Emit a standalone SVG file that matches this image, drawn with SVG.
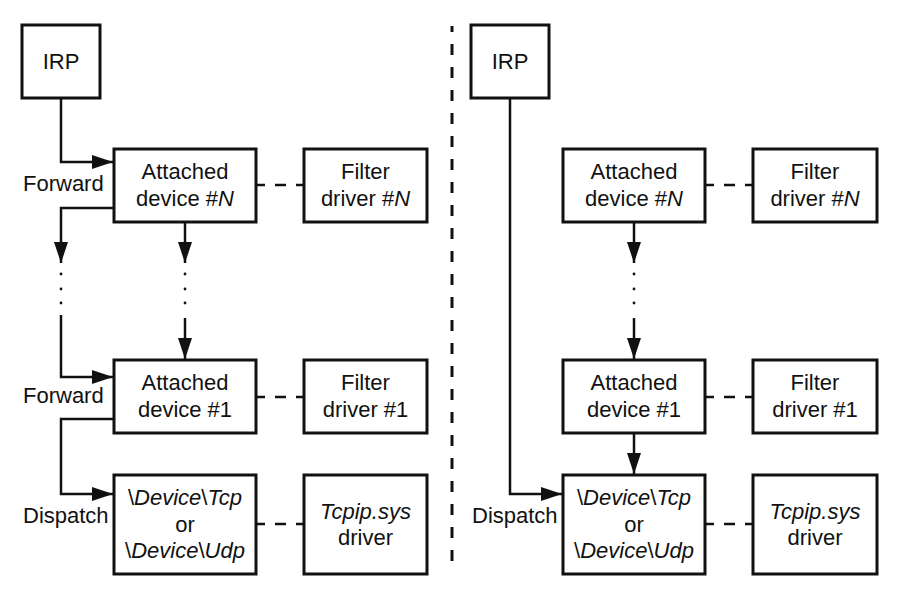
<svg xmlns="http://www.w3.org/2000/svg" width="900" height="600" viewBox="0 0 900 600">
<defs>
<style>
.box{fill:#fff;stroke:#111;stroke-width:3}
.t{font-family:"Liberation Sans",Arial,sans-serif;font-size:22px;fill:#111;text-anchor:middle}
.l{font-family:"Liberation Sans",Arial,sans-serif;font-size:22px;fill:#111}
.i{font-style:italic}
.ln{fill:none;stroke:#111;stroke-width:2.5}
.arr{fill:none;stroke:#111;stroke-width:2.5;marker-end:url(#ah)}
.dash{fill:none;stroke:#111;stroke-width:2.5;stroke-dasharray:9 10 11 10 8}
.dot{fill:#111}
</style>
<marker id="ah" markerUnits="userSpaceOnUse" markerWidth="22" markerHeight="14" refX="21" refY="7" orient="auto">
<path d="M0 0 L21 7 L0 14 Z" fill="#111"/>
</marker>
</defs>
<rect width="900" height="600" fill="#fff"/>

<line x1="452" y1="26" x2="452" y2="572" stroke="#111" stroke-width="3" stroke-dasharray="11 12" stroke-dashoffset="5"/>

<g id="connectors">
<!-- left panel -->
<path class="arr" d="M61 98 V162 H113"/>
<path class="arr" d="M114 208 H61 V263"/>
<path class="arr" d="M185 222 V263"/>
<path class="arr" d="M61 315 V377 H113"/>
<path class="arr" d="M185 318 V359"/>
<path class="arr" d="M114 419 H61 V494 H113"/>
<path class="dash" d="M256 185 H304"/>
<path class="dash" d="M256 397 H304"/>
<path class="dash" d="M256 524 H304"/>
<circle class="dot" cx="61" cy="274" r="1.4"/><circle class="dot" cx="61" cy="289" r="1.4"/><circle class="dot" cx="61" cy="303" r="1.4"/>
<circle class="dot" cx="185" cy="274" r="1.4"/><circle class="dot" cx="185" cy="289" r="1.4"/><circle class="dot" cx="185" cy="303" r="1.4"/>
<!-- right panel -->
<path class="arr" d="M510 98 V494 H562"/>
<path class="arr" d="M634 222 V263"/>
<path class="arr" d="M634 318 V359"/>
<path class="arr" d="M634 433 V474"/>
<path class="dash" d="M705 185 H753"/>
<path class="dash" d="M705 397 H753"/>
<path class="dash" d="M705 524 H753"/>
<circle class="dot" cx="634" cy="274" r="1.4"/><circle class="dot" cx="634" cy="289" r="1.4"/><circle class="dot" cx="634" cy="303" r="1.4"/>
</g>

<g id="labels">
<text class="l" x="23" y="191">Forward</text>
<text class="l" x="23" y="403">Forward</text>
<text class="l" x="23" y="523">Dispatch</text>
<text class="l" x="472" y="523">Dispatch</text>
</g>

<!-- left panel nodes -->
<g id="irp-left">
<rect class="box" x="22" y="25" width="78" height="73"/>
<text class="t" x="61" y="69">IRP</text>
</g>
<g id="attached-n-left">
<rect class="box" x="114" y="149" width="142" height="73"/>
<text class="t" x="185" y="179">Attached</text>
<text class="t" x="185" y="206">device #<tspan class="i">N</tspan></text>
</g>
<g id="filter-n-left">
<rect class="box" x="304" y="149" width="123" height="73"/>
<text class="t" x="365.5" y="179">Filter</text>
<text class="t" x="365.5" y="206">driver #<tspan class="i">N</tspan></text>
</g>
<g id="attached-1-left">
<rect class="box" x="114" y="360" width="142" height="73"/>
<text class="t" x="185" y="390">Attached</text>
<text class="t" x="185" y="417">device #1</text>
</g>
<g id="filter-1-left">
<rect class="box" x="304" y="360" width="123" height="73"/>
<text class="t" x="365.5" y="390">Filter</text>
<text class="t" x="365.5" y="417">driver #1</text>
</g>
<g id="device-left">
<rect class="box" x="114" y="475" width="142" height="99"/>
<text class="t" x="185" y="505">\<tspan class="i">Device</tspan>\<tspan class="i">Tcp</tspan></text>
<text class="t" x="185" y="532">or</text>
<text class="t" x="185" y="558">\<tspan class="i">Device</tspan>\<tspan class="i">Udp</tspan></text>
</g>
<g id="tcpip-left">
<rect class="box" x="304" y="475" width="123" height="99"/>
<text class="t" x="365.5" y="519"><tspan class="i">Tcpip.sys</tspan></text>
<text class="t" x="365.5" y="545">driver</text>
</g>

<!-- right panel nodes -->
<g id="irp-right">
<rect class="box" x="471" y="25" width="78" height="73"/>
<text class="t" x="510" y="69">IRP</text>
</g>
<g id="attached-n-right">
<rect class="box" x="563" y="149" width="142" height="73"/>
<text class="t" x="634" y="179">Attached</text>
<text class="t" x="634" y="206">device #<tspan class="i">N</tspan></text>
</g>
<g id="filter-n-right">
<rect class="box" x="753" y="149" width="124" height="73"/>
<text class="t" x="815" y="179">Filter</text>
<text class="t" x="815" y="206">driver #<tspan class="i">N</tspan></text>
</g>
<g id="attached-1-right">
<rect class="box" x="563" y="360" width="142" height="73"/>
<text class="t" x="634" y="390">Attached</text>
<text class="t" x="634" y="417">device #1</text>
</g>
<g id="filter-1-right">
<rect class="box" x="753" y="360" width="124" height="73"/>
<text class="t" x="815" y="390">Filter</text>
<text class="t" x="815" y="417">driver #1</text>
</g>
<g id="device-right">
<rect class="box" x="563" y="475" width="142" height="99"/>
<text class="t" x="634" y="505">\<tspan class="i">Device</tspan>\<tspan class="i">Tcp</tspan></text>
<text class="t" x="634" y="532">or</text>
<text class="t" x="634" y="558">\<tspan class="i">Device</tspan>\<tspan class="i">Udp</tspan></text>
</g>
<g id="tcpip-right">
<rect class="box" x="753" y="475" width="124" height="99"/>
<text class="t" x="815" y="519"><tspan class="i">Tcpip.sys</tspan></text>
<text class="t" x="815" y="545">driver</text>
</g>
</svg>
